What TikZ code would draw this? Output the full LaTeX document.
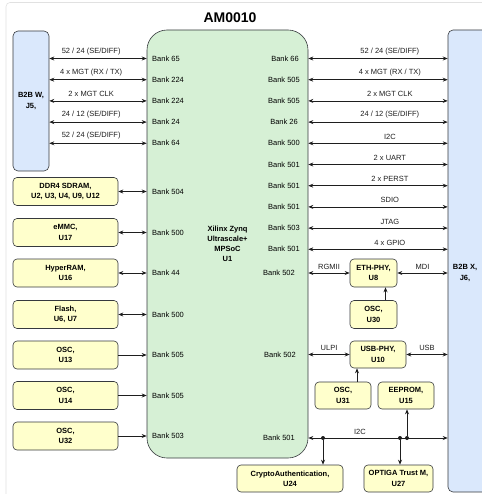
\documentclass[tikz,border=0pt]{standalone}
\usepackage{fontspec}
\setmainfont{Liberation Sans}
\usetikzlibrary{arrows.meta, positioning}
\definecolor{socgreen}{RGB}{214,240,213}
\definecolor{b2bblue}{RGB}{218,232,252}
\definecolor{devyellow}{RGB}{255,255,204}
\definecolor{edgegray}{RGB}{54,57,61}
\definecolor{wiregray}{RGB}{30,30,30}
\definecolor{framegray}{RGB}{225,225,225}
\tikzset{
  box/.style={rectangle, draw=edgegray, line width=0.6pt, align=center,
    inner sep=1pt, font=\fontsize{7.5}{10.2}\selectfont\bfseries},
  socblock/.style={box, fill=socgreen, rounded corners=20pt},
  b2bblock/.style={box, fill=b2bblue, rounded corners=5pt},
  devblock/.style={box, fill=devyellow, rounded corners=4pt, minimum height=28pt},
  bank/.style={inner sep=0pt, font=\fontsize{7.5}{9}\selectfont},
  siglabel/.style={inner sep=0pt, above=3.5pt, font=\fontsize{7.5}{9}\selectfont},
  arrow/.style={-{Stealth[length=5pt, width=4pt]}, line width=0.7pt, color=wiregray},
  dblarrow/.style={arrow, {Stealth[length=5pt, width=4pt]}-{Stealth[length=5pt, width=4pt]}},
  junction/.style={circle, fill=wiregray, inner sep=0pt, minimum size=4pt},
}

\begin{document}
\begin{tikzpicture}[x=1pt, y=-1pt]
  \useasboundingbox (0,0) rectangle (481,494);
  \draw[framegray, line width=0.6pt, rounded corners=4pt] (6,2.5) rectangle (520,520);

  % module outline
  \node[font=\fontsize{14}{16}\selectfont\bfseries] (title) at (230,18) {AM0010};
  \node[socblock, minimum width=161pt, minimum height=428pt] (mpsoc) at (227.5,244)
    {Xilinx Zynq\\Ultrascale+\\MPSoC\\U1};
  \node[b2bblock, minimum width=36pt, minimum height=140pt] (b2bw) at (31,101) {B2B W,\\J5,};
  \node[b2bblock, minimum width=40pt, minimum height=462pt] (b2bx) at (468,261) {};
  \node[box, draw=none] (b2bxtext) at (465,273) {B2B X,\\J6,};

  % banks, left side
  \node[bank, anchor=west] (bl65)  at (152,58.5)  {Bank 65};
  \node[bank, anchor=west] (bl224a) at (152,79.7) {Bank 224};
  \node[bank, anchor=west] (bl224b) at (152,100.9) {Bank 224};
  \node[bank, anchor=west] (bl24)  at (152,122.1) {Bank 24};
  \node[bank, anchor=west] (bl64)  at (152,143.3) {Bank 64};
  \node[bank, anchor=west] (bl504) at (152,191.5) {Bank 504};
  \node[bank, anchor=west] (bl500a) at (152,232.5) {Bank 500};
  \node[bank, anchor=west] (bl44)  at (152,273)   {Bank 44};
  \node[bank, anchor=west] (bl500b) at (152,314.5) {Bank 500};
  \node[bank, anchor=west] (bl505a) at (152,355)  {Bank 505};
  \node[bank, anchor=west] (bl505b) at (152,395.5) {Bank 505};
  \node[bank, anchor=west] (bl503) at (152,436)   {Bank 503};

  % banks, right side
  \node[bank, anchor=east] (br66)   at (299,58.5)  {Bank 66};
  \node[bank, anchor=east] (br505a) at (300,79.7)  {Bank 505};
  \node[bank, anchor=east] (br505b) at (300,100.9) {Bank 505};
  \node[bank, anchor=east] (br26)   at (298,122.1) {Bank 26};
  \node[bank, anchor=east] (br500)  at (300,143.3) {Bank 500};
  \node[bank, anchor=east] (br501a) at (300,164.5) {Bank 501};
  \node[bank, anchor=east] (br501b) at (300,185.7) {Bank 501};
  \node[bank, anchor=east] (br501c) at (300,206.9) {Bank 501};
  \node[bank, anchor=east] (br503)  at (300,228.1) {Bank 503};
  \node[bank, anchor=east] (br501d) at (300,249.3) {Bank 501};
  \node[bank, anchor=east] (br502a) at (295,273)   {Bank 502};
  \node[bank, anchor=east] (br502b) at (296,354.5) {Bank 502};
  \node[bank, anchor=east] (br501e) at (295,438)   {Bank 501};

  % B2B W connector
  \draw[dblarrow] (b2bw.east |- bl65) -- node[siglabel, pos=0.43] (w1) {52 / 24 (SE/DIFF)} (mpsoc.west |- bl65);
  \draw[dblarrow] (b2bw.east |- bl224a) -- node[siglabel, pos=0.43] (w2) {4 x MGT (RX / TX)} (mpsoc.west |- bl224a);
  \draw[dblarrow] (b2bw.east |- bl224b) -- node[siglabel, pos=0.43] (w3) {2 x MGT CLK} (mpsoc.west |- bl224b);
  \draw[dblarrow] (b2bw.east |- bl24) -- node[siglabel, pos=0.43] (w4) {24 / 12 (SE/DIFF)} (mpsoc.west |- bl24);
  \draw[dblarrow] (b2bw.east |- bl64) -- node[siglabel, pos=0.43] (w5) {52 / 24 (SE/DIFF)} (mpsoc.west |- bl64);

  % memories and clocks
  \node[devblock, minimum width=105pt] (ddr)   at (65.5,191.5) {DDR4 SDRAM,\\U2, U3, U4, U9, U12};
  \node[devblock, minimum width=105pt] (emmc)  at (65.5,232.5) {eMMC,\\U17};
  \node[devblock, minimum width=105pt] (hyper) at (65.5,273)   {HyperRAM,\\U16};
  \node[devblock, minimum width=105pt] (flash) at (65.5,314.5) {Flash,\\U6, U7};
  \node[devblock, minimum width=105pt] (osc13) at (65.5,355)   {OSC,\\U13};
  \node[devblock, minimum width=105pt] (osc14) at (65.5,395.5) {OSC,\\U14};
  \node[devblock, minimum width=105pt] (osc32) at (65.5,436)   {OSC,\\U32};
  \draw[dblarrow] (ddr.east)   -- (ddr.east -| mpsoc.west);
  \draw[dblarrow] (emmc.east)  -- (emmc.east -| mpsoc.west);
  \draw[dblarrow] (hyper.east) -- (hyper.east -| mpsoc.west);
  \draw[dblarrow] (flash.east) -- (flash.east -| mpsoc.west);
  \draw[arrow] (osc13.east) -- (osc13.east -| mpsoc.west);
  \draw[arrow] (osc14.east) -- (osc14.east -| mpsoc.west);
  \draw[arrow] (osc32.east) -- (osc32.east -| mpsoc.west);

  % B2B X connector
  \draw[dblarrow] (mpsoc.east |- br66) -- node[siglabel, pos=0.585] (x1) {52 / 24 (SE/DIFF)} (b2bx.west |- br66);
  \draw[dblarrow] (mpsoc.east |- br505a) -- node[siglabel, pos=0.585] (x2) {4 x MGT (RX / TX)} (b2bx.west |- br505a);
  \draw[dblarrow] (mpsoc.east |- br505b) -- node[siglabel, pos=0.585] (x3) {2 x MGT CLK} (b2bx.west |- br505b);
  \draw[dblarrow] (mpsoc.east |- br26) -- node[siglabel, pos=0.585] (x4) {24 / 12 (SE/DIFF)} (b2bx.west |- br26);
  \draw[dblarrow] (mpsoc.east |- br500) -- node[siglabel, pos=0.585] (x5) {I2C} (b2bx.west |- br500);
  \draw[dblarrow] (mpsoc.east |- br501a) -- node[siglabel, pos=0.585] (x6) {2 x UART} (b2bx.west |- br501a);
  \draw[dblarrow] (mpsoc.east |- br501b) -- node[siglabel, pos=0.585] (x7) {2 x PERST} (b2bx.west |- br501b);
  \draw[dblarrow] (mpsoc.east |- br501c) -- node[siglabel, pos=0.585] (x8) {SDIO} (b2bx.west |- br501c);
  \draw[dblarrow] (mpsoc.east |- br503) -- node[siglabel, pos=0.585] (x9) {JTAG} (b2bx.west |- br503);
  \draw[dblarrow] (mpsoc.east |- br501d) -- node[siglabel, pos=0.585] (x10) {4 x GPIO} (b2bx.west |- br501d);

  % ethernet and usb
  \node[devblock, minimum width=47pt] (ethphy) at (373.5,273)   {ETH-PHY,\\U8};
  \node[devblock, minimum width=47pt] (osc30)  at (373.5,314.5) {OSC,\\U30};
  \node[devblock, minimum width=56pt, minimum height=27pt] (usbphy) at (378,354.5) {USB-PHY,\\U10};
  \node[devblock, minimum width=56pt, minimum height=27pt] (osc31)  at (343,395.5) {OSC,\\U31};
  \node[devblock, minimum width=56pt, minimum height=27pt] (eeprom) at (406,395.5) {EEPROM,\\U15};
  \draw[dblarrow] (mpsoc.east |- ethphy) -- node[siglabel] (rgmii) {RGMII} (ethphy.west);
  \draw[dblarrow] (ethphy.east) -- node[siglabel] (mdi) {MDI} (ethphy.east -| b2bx.west);
  \draw[arrow] ([xshift=12pt]osc30.north) -- ([xshift=12pt]ethphy.south);
  \draw[dblarrow] (mpsoc.east |- usbphy) -- node[siglabel] (ulpi) {ULPI} (usbphy.west);
  \draw[dblarrow] (usbphy.east) -- node[siglabel] (usb) {USB} (usbphy.east -| b2bx.west);
  \draw[arrow] ([xshift=14pt]osc31.north) -- ([xshift=14pt]osc31.north |- usbphy.south);

  % i2c bus
  \node[devblock, minimum width=106pt, minimum height=27pt] (crypto) at (290,478.5) {CryptoAuthentication,\\U24};
  \node[devblock, minimum width=69pt, minimum height=27pt] (optiga) at (398.5,478.5) {OPTIGA Trust M,\\U27};
  \draw[dblarrow] (mpsoc.east |- br501e) -- node[siglabel, pos=0.37] (i2c) {I2C} (b2bx.west |- br501e);
  \node[junction] (ja) at (323,438) {};
  \node[junction] (jb) at (400,438) {};
  \node[junction] (jc) at (407,438) {};
  \draw[arrow] (ja) -- (ja |- crypto.north);
  \draw[arrow] (jb) -- (jb |- optiga.north);
  \draw[arrow] (jc) -- (jc |- eeprom.south);
\end{tikzpicture}
\end{document}
